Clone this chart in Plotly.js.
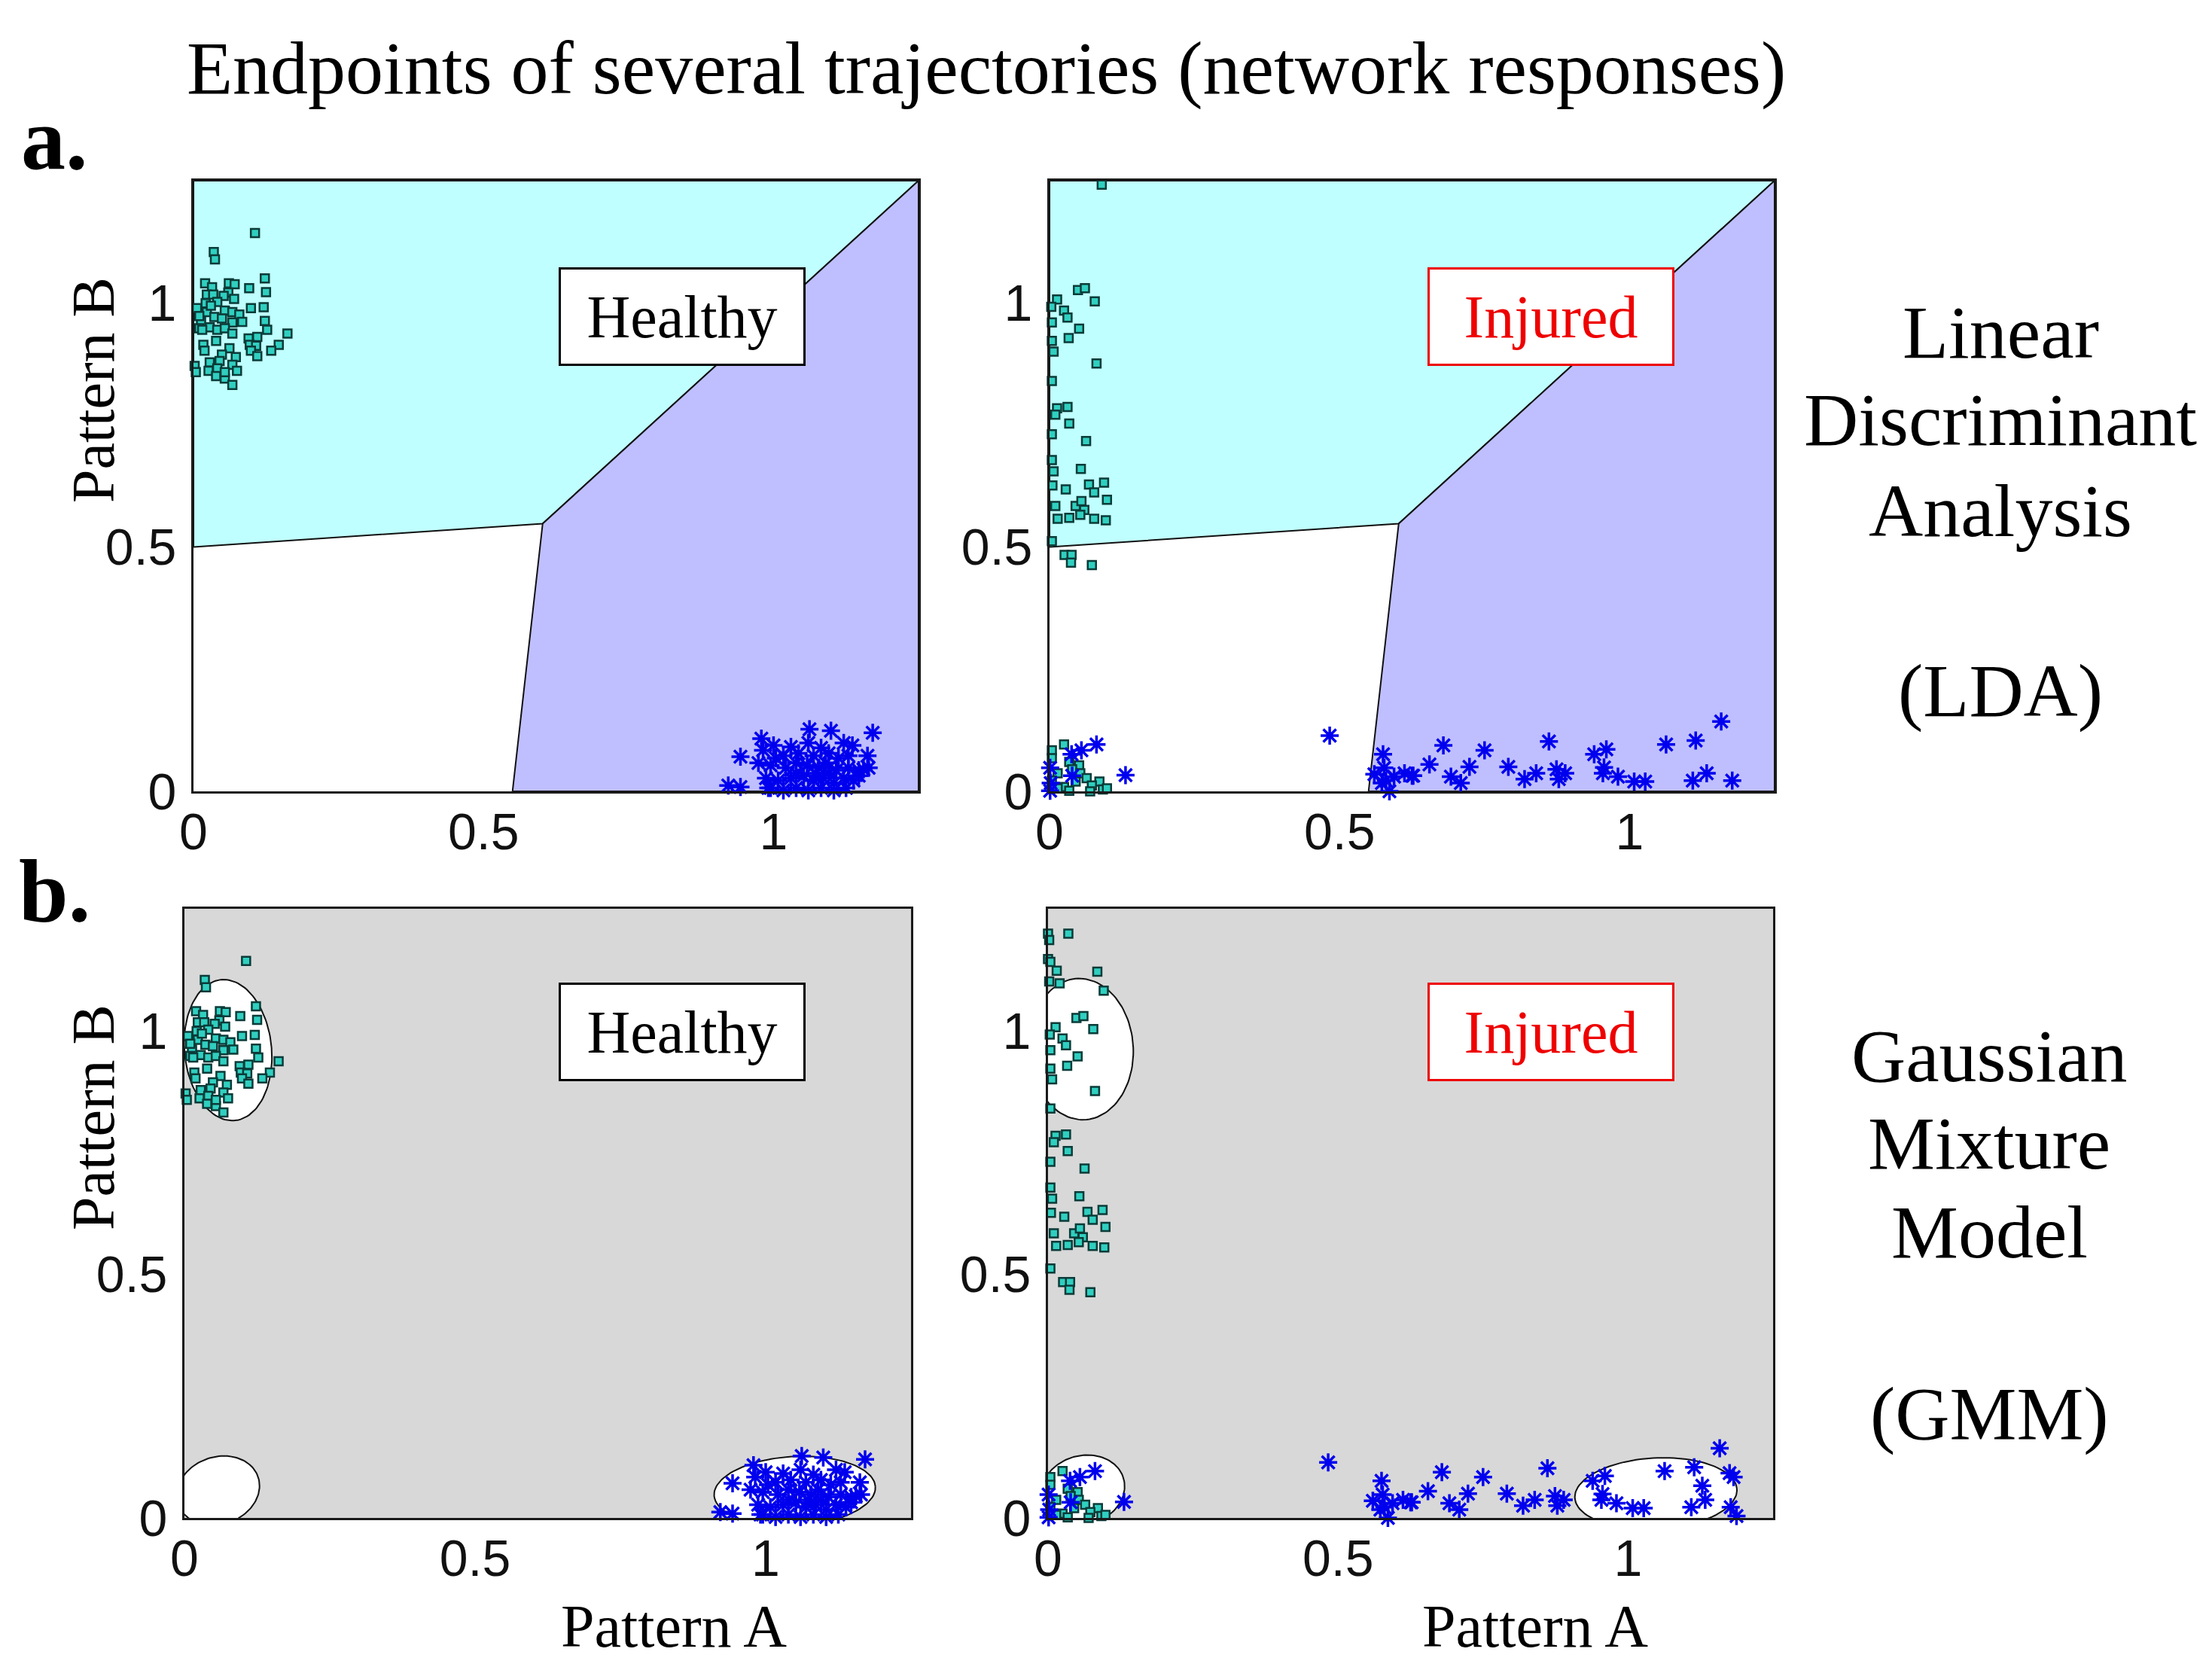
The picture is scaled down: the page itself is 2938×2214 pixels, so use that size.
<!DOCTYPE html>
<html>
<head>
<meta charset="utf-8">
<script src="https://cdn.plot.ly/plotly-3.0.1.min.js"></script>
<style>html,body{margin:0;padding:0;background:#fff;}#chart{width:2938px;height:2214px;}</style>
</head>
<body>
<div id="chart"></div>
<script>
// ---------------- DATA ----------------
var tickVals = [0, 0.5, 1];
var tickText = ['0', '0.5', '1'];

// Healthy network: endpoints near pattern B (squares) and pattern A (stars)
var healthySqX = [0.106,0.035,0.037,0.123,0.020,0.032,0.061,0.071,0.096,0.125,0.023,0.034,0.060,0.070,0.052,0.021,0.006,0.099,0.121,0.023,0.054,0.067,0.079,0.036,0.049,0.084,0.123,0.013,0.067,0.010,0.028,0.041,0.054,0.127,0.162,0.067,0.095,0.110,0.039,0.017,0.097,0.108,0.147,0.019,0.062,0.099,0.134,0.049,0.110,0.073,0.028,0.045,0.002,0.067,0.004,0.026,0.041,0.075,0.039,0.054,0.067,0.054,0.010,0.041,0.030,0.015];
var healthySqY = [1.143,1.104,1.089,1.050,1.040,1.032,1.040,1.038,1.030,1.022,1.017,1.017,1.021,1.008,1.014,0.999,0.989,0.989,0.991,0.981,0.984,0.981,0.976,0.971,0.968,0.961,0.963,0.961,0.960,0.948,0.950,0.945,0.948,0.945,0.937,0.937,0.927,0.930,0.922,0.914,0.914,0.912,0.914,0.902,0.907,0.902,0.902,0.894,0.891,0.889,0.878,0.881,0.871,0.873,0.858,0.861,0.866,0.861,0.850,0.845,0.832,0.858,0.973,1.002,0.994,0.945];

var healthyStarX = [1.062,1.099,1.171,0.979,0.943,1.162,1.164,0.922,0.943,0.991,1.000,1.030,1.060,1.082,1.121,1.136,1.017,1.043,1.069,1.095,1.112,1.129,0.974,0.995,1.021,1.039,1.058,1.078,1.090,1.108,1.129,1.147,0.987,1.008,1.030,1.052,1.069,1.086,1.104,1.121,1.138,1.155,0.995,1.017,1.039,1.060,1.082,1.104,1.125,1.147,0.982,1.004,1.039,1.095,1.073,0.987,1.047,1.112];
var healthyStarY = [0.127,0.124,0.120,0.108,0.071,0.073,0.048,0.012,0.009,0.007,0.094,0.091,0.099,0.089,0.099,0.094,0.073,0.078,0.073,0.078,0.068,0.073,0.058,0.053,0.048,0.058,0.053,0.048,0.058,0.043,0.048,0.043,0.027,0.022,0.027,0.032,0.022,0.027,0.017,0.027,0.022,0.045,0.007,0.002,0.007,0.002,0.007,0.002,0.007,0.032,0.084,0.068,0.037,0.037,0.037,-0.003,-0.006,-0.006];

// Injured network: endpoints spread along both axes
var injuredSqX = [0.049,0.061,0.013,0.078,0.003,0.025,0.031,0.004,0.051,0.033,0.004,0.007,0.081,0.004,0.013,0.031,0.010,0.034,0.004,0.063,0.004,0.007,0.054,0.005,0.028,0.068,0.094,0.077,0.099,0.010,0.045,0.055,0.060,0.014,0.034,0.053,0.077,0.097,0.004,0.026,0.038,0.037,0.073,0.025,0.004,0.004,0.034,0.051,0.039,0.014,0.053,0.004,0.045,0.064,0.086,0.025,0.073,0.092,0.005,0.053,0.099,0.126,0.014,0.034,0.070];
var injuredSqY = [1.026,1.030,1.007,1.003,0.992,0.984,0.970,0.960,0.947,0.928,0.922,0.900,0.876,0.840,0.784,0.787,0.771,0.753,0.731,0.717,0.678,0.655,0.660,0.626,0.618,0.628,0.632,0.612,0.597,0.584,0.584,0.594,0.576,0.558,0.560,0.566,0.558,0.555,0.512,0.484,0.484,0.468,0.463,0.096,0.084,0.068,0.060,0.053,0.045,0.037,0.037,0.022,0.020,0.027,0.020,0.009,0.012,0.004,-0.001,-0.002,0.006,-0.002,0.006,0.001,0.000];
var ldaOnlySqX = [0.090];
var ldaOnlySqY = [1.242];
var gmmOnlySqX = [0.000,0.002,0.035,0.000,0.004,0.015,0.002,0.020,0.085,0.096];
var gmmOnlySqY = [1.199,1.186,1.199,1.147,1.141,1.123,1.101,1.097,1.121,1.082];

var injuredStarX = [0.081,0.055,0.038,0.131,0.001,0.039,0.002,0.025,0.045,0.001,0.483,0.510,0.575,0.560,0.577,0.594,0.612,0.625,0.564,0.586,0.580,0.573,0.627,0.655,0.679,0.692,0.709,0.685,0.709,0.724,0.750,0.791,0.802,0.819,0.839,0.832,0.861,0.874,0.889,0.878,0.939,0.960,0.956,0.954,0.980,0.943,0.960,1.008,1.027,1.040,1.047,1.063,1.114,1.158,1.109,1.133,1.133,1.177];
var injuredStarY = [0.096,0.084,0.076,0.033,0.048,0.032,0.017,-0.001,-0.001,0.001,0.114,-0.004,0.076,0.035,0.048,0.030,0.037,0.032,-0.001,0.000,0.022,0.017,0.032,0.055,0.094,0.030,0.017,-0.001,-0.001,0.050,0.084,0.050,-0.001,0.025,0.037,-0.001,0.102,0.045,0.037,0.025,0.076,0.086,0.049,0.037,0.030,-0.001,-0.001,0.020,0.020,-0.004,-0.004,0.096,0.104,0.143,0.022,0.037,-0.001,0.022];
var gmmOnlyStarX = [1.175,1.182,1.128,1.187];
var gmmOnlyStarY = [0.092,0.084,0.066,0.004];

// LDA decision regions (vertices in Pattern A / Pattern B units)
var regionBX = [0, 0.602, 1.25, 0, 0];
var regionBY = [0.5, 0.548, 1.25, 1.25, 0.5];
var regionAX = [0.55, 0.602, 1.25, 1.25, 0.55];
var regionAY = [0, 0.548, 1.25, 0, 0];

// GMM component ellipses: [healthy-B, healthy-rest, healthy-A, injured-B, injured-rest, injured-A]
var ellPanel = ['h', 'h', 'h', 'i', 'i', 'i'];
var ellCX = [0.075, 0.058, 1.050, 0.057, 0.060, 1.048];
var ellCY = [0.960, 0.056, 0.055, 0.962, 0.057, 0.050];
var ellRX = [0.075, 0.076, 0.139, 0.090, 0.076, 0.140];
var ellRY = [0.145, 0.066, 0.071, 0.145, 0.068, 0.073];
var ellAng = [4, 45, 4, 2, 45, 4];

// ---------------- STYLE ----------------
var SERIF = 'Liberation Serif, Times New Roman, serif';
var SANS = 'Liberation Sans, Arial, sans-serif';
var cyanFill = '#C0FFFF';
var blueFill = '#BFBFFF';
var greyFill = '#D8D8D8';

function sqTrace(x, y, xa, ya) {
  return {type: 'scatter', mode: 'markers', x: x, y: y, xaxis: xa, yaxis: ya, cliponaxis: false,
    marker: {symbol: 'square', size: 11, color: '#30CFC0', line: {color: '#0B3B38', width: 2.5}}, hoverinfo: 'skip'};
}
function starTrace(x, y, xa, ya) {
  return {type: 'scatter', mode: 'markers', x: x, y: y, xaxis: xa, yaxis: ya, cliponaxis: false,
    marker: {symbol: 'asterisk-open', size: 20, color: '#0000EE', line: {color: '#0000EE', width: 3.5}}, hoverinfo: 'skip'};
}
function polyTrace(x, y, fill, xa, ya) {
  return {type: 'scatter', mode: 'lines', x: x, y: y, xaxis: xa, yaxis: ya, fill: 'toself', fillcolor: fill,
    line: {color: '#111', width: 2}, hoverinfo: 'skip'};
}
function ellipseTrace(i, xa, ya) {
  var xs = [], ys = [], n = 120, t, a = ellAng[i] * Math.PI / 180;
  for (var k = 0; k <= n; k++) {
    t = 2 * Math.PI * k / n;
    var u = ellRX[i] * Math.cos(t), v = ellRY[i] * Math.sin(t);
    xs.push(ellCX[i] + u * Math.cos(a) - v * Math.sin(a));
    ys.push(ellCY[i] + u * Math.sin(a) + v * Math.cos(a));
  }
  return {type: 'scatter', mode: 'lines', x: xs, y: ys, xaxis: xa, yaxis: ya, fill: 'toself', fillcolor: '#FFFFFF',
    line: {color: '#111', width: 2}, hoverinfo: 'skip'};
}

var traces = [];
// a-left: LDA healthy
traces.push(polyTrace(regionBX, regionBY, cyanFill, 'x', 'y'));
traces.push(polyTrace(regionAX, regionAY, blueFill, 'x', 'y'));
traces.push(starTrace(healthyStarX, healthyStarY, 'x', 'y'));
traces.push(sqTrace(healthySqX, healthySqY, 'x', 'y'));
// a-right: LDA injured
traces.push(polyTrace(regionBX, regionBY, cyanFill, 'x2', 'y2'));
traces.push(polyTrace(regionAX, regionAY, blueFill, 'x2', 'y2'));
traces.push(sqTrace(injuredSqX.concat(ldaOnlySqX), injuredSqY.concat(ldaOnlySqY), 'x2', 'y2'));
traces.push(starTrace(injuredStarX, injuredStarY, 'x2', 'y2'));
// b panels: GMM
for (var i = 0; i < ellPanel.length; i++) {
  traces.push(ellipseTrace(i, ellPanel[i] === 'h' ? 'x3' : 'x4', ellPanel[i] === 'h' ? 'y3' : 'y4'));
}
traces.push(starTrace(healthyStarX, healthyStarY, 'x3', 'y3'));
traces.push(sqTrace(healthySqX, healthySqY, 'x3', 'y3'));
traces.push(sqTrace(injuredSqX.concat(gmmOnlySqX), injuredSqY.concat(gmmOnlySqY), 'x4', 'y4'));
traces.push(starTrace(injuredStarX.concat(gmmOnlyStarX), injuredStarY.concat(gmmOnlyStarY), 'x4', 'y4'));

function ax(domain, anchor, isX) {
  return {domain: domain, anchor: anchor, range: [0, 1.25], showgrid: false, zeroline: false,
    showline: true, mirror: true, linecolor: '#1a1a1a', linewidth: 3, ticks: '',
    tickvals: tickVals, ticktext: tickText, ticklabelstandoff: isX ? -8 : 6,
    tickfont: {family: SANS, size: 68, color: '#111'}, fixedrange: true};
}

var W = 2938, H = 2214;
function px(x) { return x / W; }
function py(y) { return 1 - y / H; }
function txt(text, x, y, size, opts) {
  var a = {text: text, x: px(x), y: py(y), xref: 'paper', yref: 'paper', showarrow: false,
    xanchor: 'center', yanchor: 'middle', font: {family: SERIF, size: size, color: '#000'}};
  for (var k in (opts || {})) a[k] = opts[k];
  return a;
}
function box(label, color, x, y) {
  return {text: label, x: px(x), y: py(y), xref: 'paper', yref: 'paper', showarrow: false,
    xanchor: 'center', yanchor: 'middle', width: 322, height: 125, borderpad: 0, borderwidth: 3,
    bordercolor: color, bgcolor: '#FFFFFF', font: {family: SERIF, size: 80, color: color}};
}

var annotations = [
  txt('Endpoints of several trajectories (network responses)', 1310, 90, 100),
  txt('<b>a.</b>', 72, 185, 118),
  txt('<b>b.</b>', 72, 1183, 118),
  txt('Pattern B', 124, 518, 80, {textangle: -90}),
  txt('Pattern B', 124, 1484, 80, {textangle: -90}),
  txt('Pattern A', 895, 2160, 80),
  txt('Pattern A', 2039, 2160, 80),
  txt('Linear', 2657, 442, 100),
  txt('Discriminant', 2657, 558, 100),
  txt('Analysis', 2657, 678, 100),
  txt('(LDA)', 2657, 918, 100),
  txt('Gaussian', 2642, 1402, 100),
  txt('Mixture', 2642, 1518, 100),
  txt('Model', 2642, 1636, 100),
  txt('(GMM)', 2642, 1877, 100),
  box('Healthy', '#000000', 906, 420),
  box('Injured', '#EE0000', 2060, 420),
  box('Healthy', '#000000', 906, 1370),
  box('Injured', '#EE0000', 2060, 1370)
];

var shapes = [
  {type: 'rect', xref: 'x3 domain', yref: 'y3 domain', x0: 0, x1: 1, y0: 0, y1: 1, fillcolor: greyFill, line: {width: 0}, layer: 'below'},
  {type: 'rect', xref: 'x4 domain', yref: 'y4 domain', x0: 0, x1: 1, y0: 0, y1: 1, fillcolor: greyFill, line: {width: 0}, layer: 'below'}
];

var layout = {
  width: W, height: H, margin: {l: 0, r: 0, t: 0, b: 0}, paper_bgcolor: '#FFFFFF', plot_bgcolor: 'rgba(0,0,0,0)',
  showlegend: false,
  xaxis: ax([257 / W, 1220 / W], 'y', true),
  yaxis: ax([1 - 1051 / H, 1 - 240 / H], 'x', false),
  xaxis2: ax([1394 / W, 2357 / W], 'y2', true),
  yaxis2: ax([1 - 1051 / H, 1 - 240 / H], 'x2', false),
  xaxis3: ax([245 / W, 1210 / W], 'y3', true),
  yaxis3: ax([1 - 2016 / H, 1 - 1207 / H], 'x3', false),
  xaxis4: ax([1392 / W, 2355 / W], 'y4', true),
  yaxis4: ax([1 - 2016 / H, 1 - 1207 / H], 'x4', false),
  annotations: annotations,
  shapes: shapes
};

Plotly.newPlot('chart', traces, layout, {staticPlot: true, displayModeBar: false});
</script>
</body>
</html>
